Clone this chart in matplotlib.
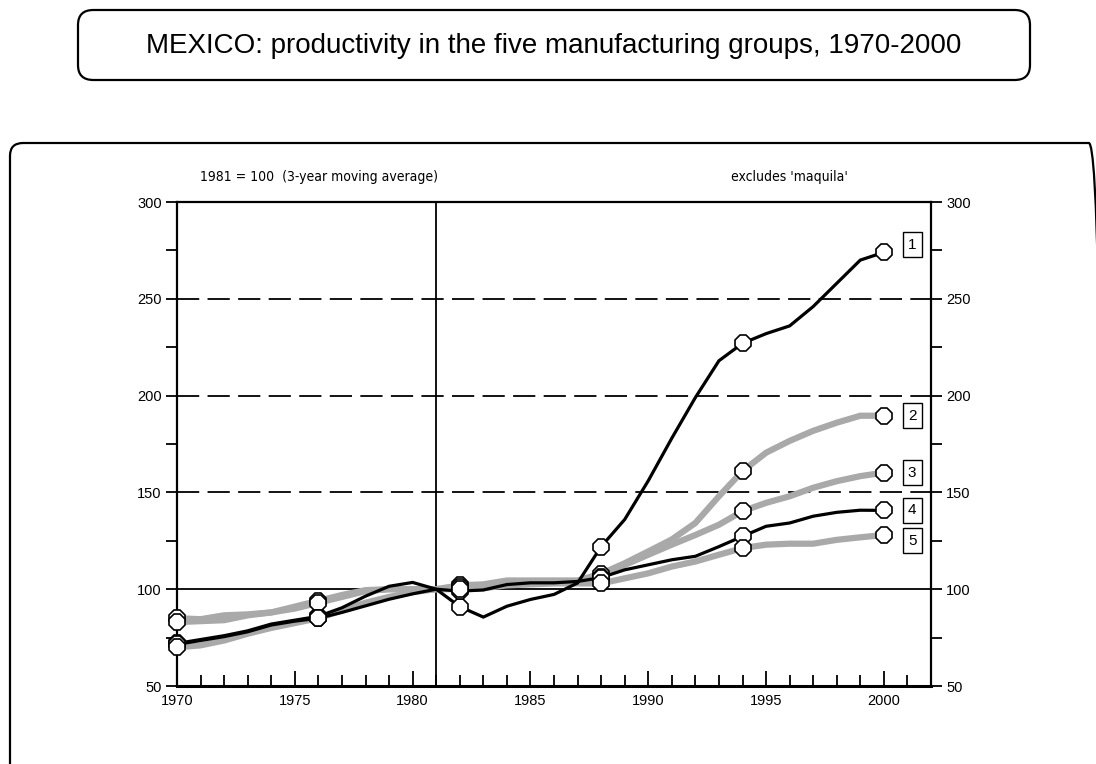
import matplotlib
matplotlib.use("Agg")
import matplotlib.pyplot as plt
from matplotlib.patches import FancyBboxPatch
from matplotlib import font_manager as fm

# ---------------- data ----------------
years = list(range(1970, 2001))
series_names = ["1", "2", "3", "4", "5"]

s1 = [72, 74, 76, 78.5, 82, 84, 86, 90.4, 96.4, 101.5, 103.5, 100,
      91, 85.6, 91.2, 94.7, 97.3, 103.2, 122, 136, 156, 178, 199, 218,
      227, 232, 236, 246, 258, 270, 274]
s2 = [85, 84.5, 86.5, 87, 88, 91, 94, 97, 99.5, 100, 100, 100,
      102, 102.5, 104.5, 104.5, 104.5, 104.5, 108, 113.4, 119.5, 125.7, 134.2, 148,
      161, 170.5, 176.6, 181.8, 186, 189.6, 189.6]
s3 = [83, 83.5, 84, 86.5, 88, 90, 93, 96, 99, 100, 100, 100,
      101, 101.5, 103.5, 104, 104, 104, 106.5, 112.5, 117.8, 123, 128, 133.3,
      140.3, 144.6, 148, 152.4, 155.8, 158.4, 160.2]
s4 = [71.5, 73.5, 75.5, 78, 81.5, 83.5, 85, 88, 91.4, 94.8, 97.6, 100,
      99, 99.6, 102.4, 103.3, 103.3, 104, 106, 110, 112.6, 115.2, 117, 122,
      127.3, 132.5, 134.2, 137.7, 139.7, 140.8, 140.7]
s5 = [70, 71, 73.5, 77, 80, 82.5, 85, 89, 93, 96, 98.5, 100,
      100, 100.5, 102, 102.5, 103, 103, 103, 105.6, 108.2, 111.7, 114.3, 117.8,
      121.2, 123, 123.5, 123.5, 125.5, 126.8, 128]
marker_years = [1970, 1976, 1982, 1988, 1994, 2000]

x_ticks = [1970, 1975, 1980, 1985, 1990, 1995, 2000]
y_ticks = [50, 100, 150, 200, 250, 300]

title = "MEXICO: productivity in the five manufacturing groups, 1970-2000"
note_left = "1981 = 100  (3-year moving average)"
note_right = "excludes 'maquila'"

# ---------------- fonts ----------------
def pick(fams):
    for f in fams:
        try:
            fm.findfont(fm.FontProperties(family=f), fallback_to_default=False)
            return f
        except Exception:
            pass
    return "DejaVu Sans"

regular = pick(["Liberation Sans", "Arial", "DejaVu Sans"])

def narrow_props(size):
    cands = [f.fname for f in fm.fontManager.ttflist]
    pref = None
    for key in ["LiberationSansNarrow-Regular", "ArialNarrow", "DejaVuSansCondensed.ttf",
                "Condensed-Regular", "Condensed"]:
        for fn in cands:
            if key in fn and "Bold" not in fn and "Oblique" not in fn and "Italic" not in fn:
                pref = fn
                break
        if pref:
            break
    if pref:
        return fm.FontProperties(fname=pref, size=size)
    return fm.FontProperties(family=regular, size=size)

plt.rcParams["font.family"] = [regular, "DejaVu Sans"]
plt.rcParams["lines.scale_dashes"] = False

BLACK = "#000000"
GRAY = "#A9A9A9"

fig = plt.figure(figsize=(10.96, 7.64), dpi=100)

# outer frames
fig.patches.append(FancyBboxPatch((10 / 1096, -0.05), (1102 - 10) / 1096, 1 - 143 / 764 + 0.05,
                                  boxstyle="round,pad=0,rounding_size=0.012",
                                  transform=fig.transFigure, fc="none", ec="black",
                                  lw=1.6, mutation_aspect=1.4))
fig.patches.append(FancyBboxPatch((78 / 1096, 1 - 80 / 764), (1030 - 78) / 1096, 70 / 764,
                                  boxstyle="round,pad=0,rounding_size=0.014",
                                  transform=fig.transFigure, fc="none", ec="black",
                                  lw=1.6, mutation_aspect=1.4))
fig.text(554 / 1096, 1 - 46 / 764, title, ha="center", va="center", fontsize=20,
         family=[regular, "DejaVu Sans"])

ax = fig.add_axes([177 / 1096, 1 - 686 / 764, (931 - 177) / 1096, (686 - 202) / 764])
ax.set_xlim(1970, 2002)
ax.set_ylim(50, 300)

# reference lines
for v in [150, 200, 250]:
    ax.axhline(v, color="black", lw=1.3, dashes=(16, 6), zorder=1)
ax.axhline(100, color="black", lw=1.3, zorder=1)
ax.axvline(1981, color="black", lw=1.3, zorder=1)

series = [s1, s2, s3, s4, s5]
colors = [BLACK, GRAY, GRAY, BLACK, GRAY]
widths = [2.3, 4.5, 4.5, 2.3, 4.5]
order = [5, 3, 3, 4, 3]
mk_idx = [years.index(y) for y in marker_years]
for vals, c, w, z in zip(series, colors, widths, order):
    ax.plot(years, vals, color=c, lw=w, zorder=z, solid_joinstyle="miter")
for vals in series:
    ax.plot([years[i] for i in mk_idx], [vals[i] for i in mk_idx], ls="none",
            marker="8", ms=13, mfc="white", mec="black", mew=1.2, zorder=6,
            clip_on=False)

label_offsets = [4, 0, 0, 0, -3]
for name, vals, off in zip(series_names, series, label_offsets):
    ax.text(2001.2, vals[-1] + off, name, ha="center", va="center", fontsize=11,
            bbox=dict(boxstyle="square,pad=0.35", fc="white", ec="black", lw=1.0),
            zorder=7)

# axes styling
for side in ["left", "right", "top", "bottom"]:
    ax.spines[side].set_linewidth(1.6)
ax.spines["bottom"].set_linewidth(2.2)
ax.set_xticks(x_ticks)
ax.set_xticks(range(1970, 2003), minor=True)
ax.set_yticks(y_ticks)
ax.set_yticks(range(50, 301, 25), minor=True)
ax.tick_params(axis="x", which="major", direction="in", length=11, width=1.3, pad=6,
               labelsize=10.5)
ax.tick_params(axis="x", which="minor", direction="in", length=8, width=1.3)
ax.tick_params(axis="y", which="both", direction="out", length=8, width=1.3,
               left=True, right=True, labelleft=True, labelright=True, pad=3,
               labelsize=10.5)

note_fp = narrow_props(10)
fig.text(200 / 1096, 1 - 177 / 764, note_left, ha="left", va="center", fontproperties=note_fp)
fig.text(848 / 1096, 1 - 177 / 764, note_right, ha="right", va="center", fontproperties=note_fp)

fig.savefig("out.png", dpi=100)
